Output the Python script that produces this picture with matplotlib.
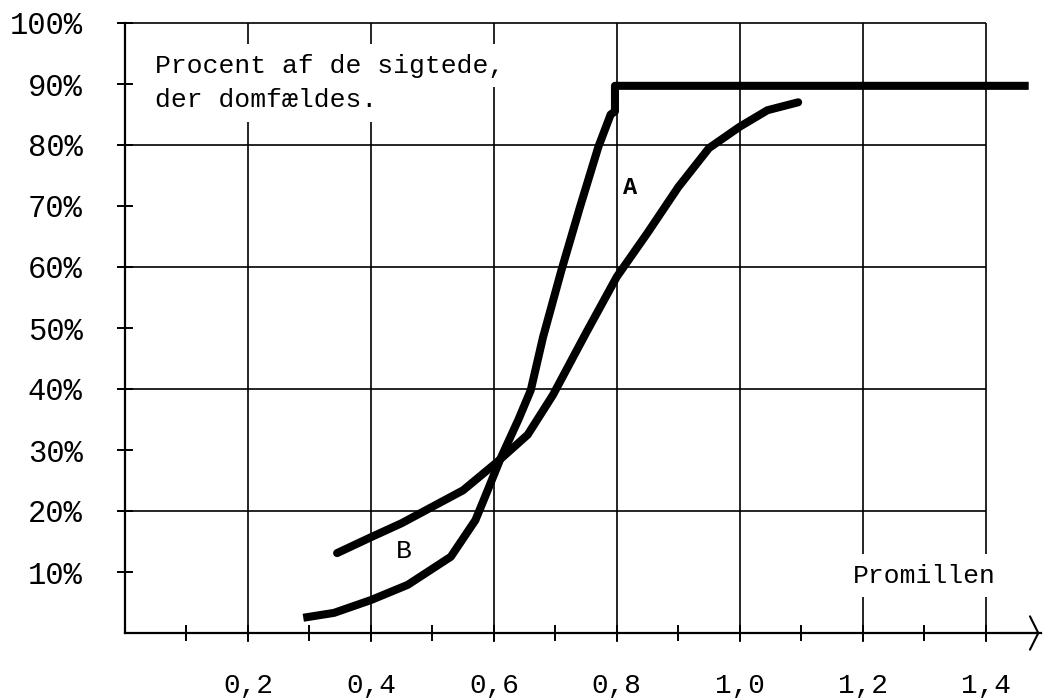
import matplotlib
matplotlib.use("Agg")
import matplotlib.pyplot as plt

# curve A (steep) and its plateau
a_x = [0.29, 0.34, 0.40, 0.46, 0.53, 0.57, 0.59, 0.61, 0.64, 0.66, 0.68, 0.71, 0.74, 0.77, 0.79, 0.797, 0.797, 1.47]
a_y = [2.5, 3.3, 5.4, 7.9, 12.5, 18.5, 23.4, 28.4, 35.0, 39.8, 48.5, 59.5, 69.8, 79.7, 85.0, 85.5, 89.7, 89.7]

# curve B (flatter)
b_x = [0.345, 0.40, 0.45, 0.50, 0.55, 0.605, 0.655, 0.696, 0.75, 0.80, 0.85, 0.90, 0.95, 1.0, 1.045, 1.095]
b_y = [13.1, 15.7, 18.0, 20.7, 23.4, 28.0, 32.5, 39.0, 49.2, 58.4, 65.6, 73.1, 79.5, 83.0, 85.7, 87.0]

x_major = [0.2, 0.4, 0.6, 0.8, 1.0, 1.2, 1.4]
x_labels = ["0,2", "0,4", "0,6", "0,8", "1,0", "1,2", "1,4"]
x_minor = [0.1, 0.3, 0.5, 0.7, 0.9, 1.1, 1.3]
y_ticks = [10, 20, 30, 40, 50, 60, 70, 80, 90, 100]
y_labels = ["10%", "20%", "30%", "40%", "50%", "60%", "70%", "80%", "90%", "100%"]
y_grid = [20, 40, 60, 80, 100]

FONT = "Liberation Mono"
plt.rcParams["font.family"] = [FONT, "DejaVu Sans Mono"]

fig = plt.figure(figsize=(10.49, 6.98), dpi=100)
ax = fig.add_axes([125 / 1049, 65 / 698, 916 / 1049, 610 / 698])
ax.set_xlim(0, 1.49)
ax.set_ylim(0, 100)

for s in ["top", "right"]:
    ax.spines[s].set_visible(False)
for s in ["left", "bottom"]:
    ax.spines[s].set_linewidth(1.6)

# grid, drawn by hand so it stops at 1,4 while the axis runs on
ax.hlines(y_grid, -0.013, 1.4, colors="black", lw=1.2, zorder=1, clip_on=False)
ax.vlines(x_major, -1.5, 100, colors="black", lw=1.2, zorder=1, clip_on=False)

ax.set_xticks(x_major, x_labels)
ax.set_xticks(x_minor, minor=True)
ax.set_yticks(y_ticks, y_labels)
ax.tick_params(axis="x", which="both", direction="inout", length=11, width=1.4, pad=23, labelsize=20)
ax.tick_params(axis="y", direction="inout", length=11, width=1.4, pad=25, labelsize=22)

# open arrow head at the end of the x axis
ax.annotate("", xy=(1.492, 0), xytext=(1.42, 0), xycoords="data",
            arrowprops=dict(arrowstyle="->,head_length=0.6,head_width=1.2", lw=1.5, color="black"),
            annotation_clip=False)

ax.plot(a_x, a_y, color="black", lw=5.8, solid_capstyle="butt", solid_joinstyle="round", zorder=4, clip_on=False)
ax.plot(b_x, b_y, color="black", lw=5.8, solid_capstyle="round", solid_joinstyle="round", zorder=4, clip_on=False)

box = dict(facecolor="white", edgecolor="none", pad=7)
ax.text(0.049, 93.0, "Procent af de sigtede,", fontsize=19, va="center", ha="left", bbox=box, zorder=3)
ax.text(0.049, 87.4, "der domfældes.", fontsize=19, va="center", ha="left", bbox=box, zorder=3)
ax.text(1.3, 9.4, "Promillen", fontsize=19, va="center", ha="center", bbox=box, zorder=3)
ax.text(0.81, 73.0, "A", fontsize=17, fontweight="bold", va="center", ha="left", zorder=3)
ax.text(0.44, 13.5, "B", fontsize=19, va="center", ha="left", zorder=3)

fig.savefig("out.png", dpi=100, facecolor="white")
